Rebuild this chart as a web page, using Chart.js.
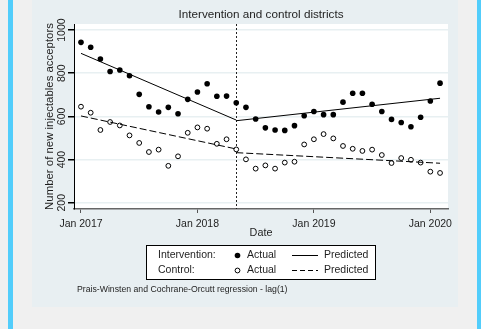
<!DOCTYPE html>
<html>
<head>
<meta charset="utf-8">
<script src="https://cdn.jsdelivr.net/npm/chart.js@4/dist/chart.umd.min.js"></script>
<style>
  html, body { margin: 0; padding: 0; background: #f0f0f0; }
  canvas { display: block; }
</style>
</head>
<body>
<canvas id="chartCanvas" width="481" height="329"></canvas>
<script>
// Monthly series, Jan 2017 - Feb 2020 (x = month index)
const months = [
    '2017-01', '2017-02', '2017-03', '2017-04', '2017-05', '2017-06',
    '2017-07', '2017-08', '2017-09', '2017-10', '2017-11', '2017-12',
    '2018-01', '2018-02', '2018-03', '2018-04', '2018-05', '2018-06',
    '2018-07', '2018-08', '2018-09', '2018-10', '2018-11', '2018-12',
    '2019-01', '2019-02', '2019-03', '2019-04', '2019-05', '2019-06',
    '2019-07', '2019-08', '2019-09', '2019-10', '2019-11', '2019-12',
    '2020-01', '2020-02'
];

const interventionActual = [
    943, 920, 866, 808, 815, 788, 702, 645, 620, 642, 612, 679,
    713, 751, 693, 694, 663, 642, 588, 547, 537, 535, 557, 603,
    623, 608, 608, 666, 707, 707, 656, 623, 586, 572, 552, 596,
    671, 754
];

const controlActual = [
    645, 617, 537, 574, 558, 512, 477, 435, 446, 371, 415, 524,
    549, 543, 473, 494, 447, 401, 358, 373, 358, 386, 390, 470,
    494, 518, 498, 463, 450, 440, 446, 421, 384, 407, 399, 386,
    344, 338
];

// Prais-Winsten fitted segments (before / after the intervention month)
const fitPreMonths = [0, 16];
const fitPostMonths = [16, 37];
const interventionFitPre = [892, 583];
const interventionFitPost = [580, 684];
const controlFitPre = [602, 449];
const controlFitPost = [432, 383];

const interventionMonth = 16;

const xTickMonths = [0, 12, 24, 36];
const xTickLabels = ['Jan 2017', 'Jan 2018', 'Jan 2019', 'Jan 2020'];
const yTicks = [200, 400, 600, 800, 1000];

const FONT = '"Liberation Sans", Arial, sans-serif';
const TEXT = '#1e1e1e';

function toPoints(xs, ys) {
    return ys.map((y, i) => ({ x: xs[i], y: y }));
}

const monthIdx = months.map((m, i) => i);

// Backgrounds, titles, rotated y labels, legend and note
const stataFrame = {
    id: 'stataFrame',
    beforeDraw(chart) {
        const ctx = chart.ctx;
        const area = chart.chartArea;
        ctx.save();
        ctx.fillStyle = '#f0f0f0';
        ctx.fillRect(0, 0, chart.width, chart.height);
        ctx.fillStyle = '#52cdfb';
        ctx.fillRect(8, 0, 5, chart.height);
        ctx.fillRect(477, 0, 4, chart.height);
        ctx.fillStyle = '#e8eff2';
        ctx.fillRect(32, 0, 426, 307);
        ctx.fillStyle = '#ffffff';
        ctx.fillRect(area.left, area.top, area.right - area.left, area.bottom - area.top);
        ctx.restore();
    },
    beforeDatasetsDraw(chart) {
        // intervention start
        const ctx = chart.ctx;
        const area = chart.chartArea;
        const x = Math.round(chart.scales.x.getPixelForValue(interventionMonth)) + 0.5;
        ctx.save();
        ctx.strokeStyle = '#222';
        ctx.lineWidth = 1;
        ctx.setLineDash([2, 2]);
        ctx.beginPath();
        ctx.moveTo(x, area.top);
        ctx.lineTo(x, area.bottom);
        ctx.stroke();
        ctx.restore();
    },
    afterDraw(chart) {
        const ctx = chart.ctx;
        const area = chart.chartArea;
        const yScale = chart.scales.y;
        const midX = (area.left + area.right) / 2;
        ctx.save();
        ctx.fillStyle = TEXT;

        // title
        ctx.font = '11.7px ' + FONT;
        ctx.textAlign = 'center';
        ctx.textBaseline = 'middle';
        ctx.fillText('Intervention and control districts', midX, 15);

        // y tick labels, vertical
        ctx.font = '10.5px ' + FONT;
        for (const v of yTicks) {
            const py = yScale.getPixelForValue(v);
            ctx.save();
            ctx.translate(62, py);
            ctx.rotate(-Math.PI / 2);
            ctx.fillText(String(v), 0, 0);
            ctx.restore();
        }

        // y axis title
        ctx.font = '11.4px ' + FONT;
        ctx.save();
        ctx.translate(50, (area.top + area.bottom) / 2);
        ctx.rotate(-Math.PI / 2);
        ctx.fillText('Number of new injectables acceptors', 0, 0);
        ctx.restore();

        // x axis title
        ctx.font = '10.8px ' + FONT;
        ctx.fillText('Date', midX, 233);

        // legend
        ctx.font = '10.5px ' + FONT;
        ctx.fillStyle = '#ffffff';
        ctx.fillRect(146, 245, 229, 34);
        ctx.strokeStyle = '#000';
        ctx.lineWidth = 1;
        ctx.strokeRect(146.5, 245.5, 229, 34);

        const rows = [
            { label: 'Intervention:', y: 255.5, filled: true, dash: [] },
            { label: 'Control:', y: 270.5, filled: false, dash: [5, 3] }
        ];
        ctx.textAlign = 'left';
        for (const r of rows) {
            ctx.fillStyle = TEXT;
            ctx.fillText(r.label, 158, r.y);
            ctx.fillText('Actual', 247, r.y);
            ctx.fillText('Predicted', 324, r.y);

            ctx.beginPath();
            ctx.arc(237.5, r.y, r.filled ? 2.8 : 2.4, 0, Math.PI * 2);
            if (r.filled) {
                ctx.fillStyle = '#000';
                ctx.fill();
            } else {
                ctx.fillStyle = '#fff';
                ctx.fill();
                ctx.strokeStyle = '#000';
                ctx.stroke();
            }

            ctx.save();
            ctx.strokeStyle = '#000';
            ctx.setLineDash(r.dash);
            ctx.beginPath();
            ctx.moveTo(292, r.y);
            ctx.lineTo(318, r.y);
            ctx.stroke();
            ctx.restore();
        }

        // note
        ctx.fillStyle = TEXT;
        ctx.font = '8.7px ' + FONT;
        ctx.fillText('Prais-Winsten and Cochrane-Orcutt regression - lag(1)', 77, 290);
        ctx.restore();
    }
};

const chartCanvas = document.getElementById('chartCanvas');

new Chart(chartCanvas, {
    type: 'scatter',
    data: {
        datasets: [
            {
                label: 'Intervention fit (pre)',
                data: toPoints(fitPreMonths, interventionFitPre),
                showLine: true,
                borderColor: '#000',
                borderWidth: 1,
                pointRadius: 0
            },
            {
                label: 'Intervention fit (post)',
                data: toPoints(fitPostMonths, interventionFitPost),
                showLine: true,
                borderColor: '#000',
                borderWidth: 1,
                pointRadius: 0
            },
            {
                label: 'Control fit (pre)',
                data: toPoints(fitPreMonths, controlFitPre),
                showLine: true,
                borderColor: '#000',
                borderWidth: 1,
                borderDash: [7, 3],
                pointRadius: 0
            },
            {
                label: 'Control fit (post)',
                data: toPoints(fitPostMonths, controlFitPost),
                showLine: true,
                borderColor: '#000',
                borderWidth: 1,
                borderDash: [7, 3],
                pointRadius: 0
            },
            {
                label: 'Intervention actual',
                data: toPoints(monthIdx, interventionActual),
                backgroundColor: '#000',
                borderWidth: 0,
                pointRadius: 2.8
            },
            {
                label: 'Control actual',
                data: toPoints(monthIdx, controlActual),
                backgroundColor: '#fff',
                borderColor: '#000',
                borderWidth: 1,
                pointRadius: 2.4
            }
        ]
    },
    options: {
        responsive: false,
        animation: false,
        devicePixelRatio: 1,
        layout: { padding: { left: 0, top: 24, right: 33, bottom: 0 } },
        plugins: {
            legend: { display: false },
            title: { display: false },
            tooltip: { enabled: false }
        },
        scales: {
            x: {
                type: 'linear',
                min: -0.72,
                max: 37.82,
                afterFit: (scale) => { scale.height = 120; },
                afterBuildTicks: (scale) => {
                    scale.ticks = xTickMonths.map(v => ({ value: v }));
                },
                ticks: {
                    autoSkip: false,
                    maxRotation: 0,
                    padding: 5,
                    color: TEXT,
                    font: { family: FONT, size: 10.5 },
                    callback: (value) => xTickLabels[xTickMonths.indexOf(value)]
                },
                grid: {
                    drawOnChartArea: false,
                    tickLength: 4,
                    tickColor: '#555'
                },
                border: { color: '#666', width: 1.5 }
            },
            y: {
                min: 171,
                max: 1028,
                afterFit: (scale) => { scale.width = 74; },
                afterBuildTicks: (scale) => {
                    scale.ticks = yTicks.map(v => ({ value: v }));
                },
                ticks: { display: false },
                grid: {
                    color: '#e8f0f2',
                    lineWidth: 1.5,
                    tickLength: 6,
                    tickColor: '#000'
                },
                border: { color: '#000', width: 1 }
            }
        }
    },
    plugins: [stataFrame]
});
</script>
</body>
</html>
